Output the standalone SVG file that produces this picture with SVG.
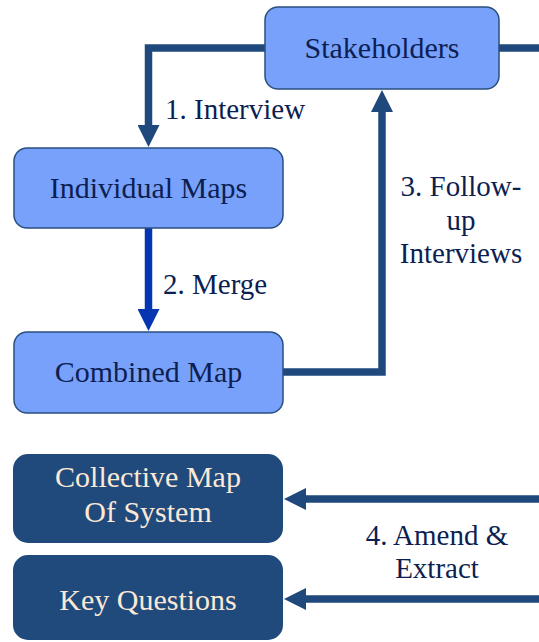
<svg xmlns="http://www.w3.org/2000/svg" width="539" height="642" viewBox="0 0 539 642">
  <style>
    .light { fill: #78a1fb; stroke: #2a4f80; stroke-width: 1.5; }
    .dark { fill: #204a7b; stroke: none; }
    .tl { font-size: 30px; fill: #0d1f52; text-anchor: middle; }
    .td { font-size: 30px; fill: #fbe8d6; text-anchor: middle; }
    .lbl { font-size: 29px; fill: #0d1f52; }
    .conn { fill: none; stroke: #1f497d; stroke-width: 7.5; stroke-linejoin: miter; }
    .merge { fill: none; stroke: #0535b0; stroke-width: 7.5; }
  </style>
  <defs>
    <marker id="head" markerUnits="userSpaceOnUse" markerWidth="22" markerHeight="22" refX="1" refY="11" orient="auto">
      <path d="M0,0 L22,11 L0,22 z" fill="#1f497d"/>
    </marker>
    <marker id="headBlue" markerUnits="userSpaceOnUse" markerWidth="22" markerHeight="22" refX="1" refY="11" orient="auto">
      <path d="M0,0 L22,11 L0,22 z" fill="#0535b0"/>
    </marker>
  </defs>

  <!-- connectors -->
  <g id="connectors">
    <path class="conn" d="M499,48 H539"/>
    <path class="conn" d="M266,48 H148.5 V126" marker-end="url(#head)"/>
    <path class="merge" d="M148.5,228 V310" marker-end="url(#headBlue)"/>
    <path class="conn" d="M283,372 H382 V111" marker-end="url(#head)"/>
    <path class="conn" d="M539,499 H305" marker-end="url(#head)"/>
    <path class="conn" d="M539,599 H305" marker-end="url(#head)"/>
  </g>

  <g font-family="'Times New Roman', Tinos, 'Liberation Serif', 'DejaVu Serif', serif">
    <!-- connector labels -->
    <g id="labels">
      <text class="lbl" x="165" y="119">1. Interview</text>
      <text class="lbl" x="163" y="294">2. Merge</text>
      <text class="lbl" x="461" y="196" text-anchor="middle">3. Follow-</text>
      <text class="lbl" x="461" y="230" text-anchor="middle">up</text>
      <text class="lbl" x="461" y="263" text-anchor="middle">Interviews</text>
      <text class="lbl" x="437" y="545" text-anchor="middle">4. Amend &amp;</text>
      <text class="lbl" x="437" y="578" text-anchor="middle">Extract</text>
    </g>

    <g id="stakeholders">
      <rect class="light" x="265" y="7" width="234" height="82" rx="13"/>
      <text class="tl" x="382" y="58">Stakeholders</text>
    </g>

    <g id="individual-maps">
      <rect class="light" x="14" y="148" width="269" height="80" rx="13"/>
      <text class="tl" x="148.5" y="198">Individual Maps</text>
    </g>

    <g id="combined-map">
      <rect class="light" x="14" y="332" width="269" height="81" rx="13"/>
      <text class="tl" x="148.5" y="382">Combined Map</text>
    </g>

    <g id="collective-map">
      <rect class="dark" x="13" y="454" width="270" height="89" rx="15"/>
      <text class="td" x="148" y="487">Collective Map</text>
      <text class="td" x="148" y="522">Of System</text>
    </g>

    <g id="key-questions">
      <rect class="dark" x="13" y="555" width="270" height="85" rx="15"/>
      <text class="td" x="148" y="610">Key Questions</text>
    </g>
  </g>
</svg>
